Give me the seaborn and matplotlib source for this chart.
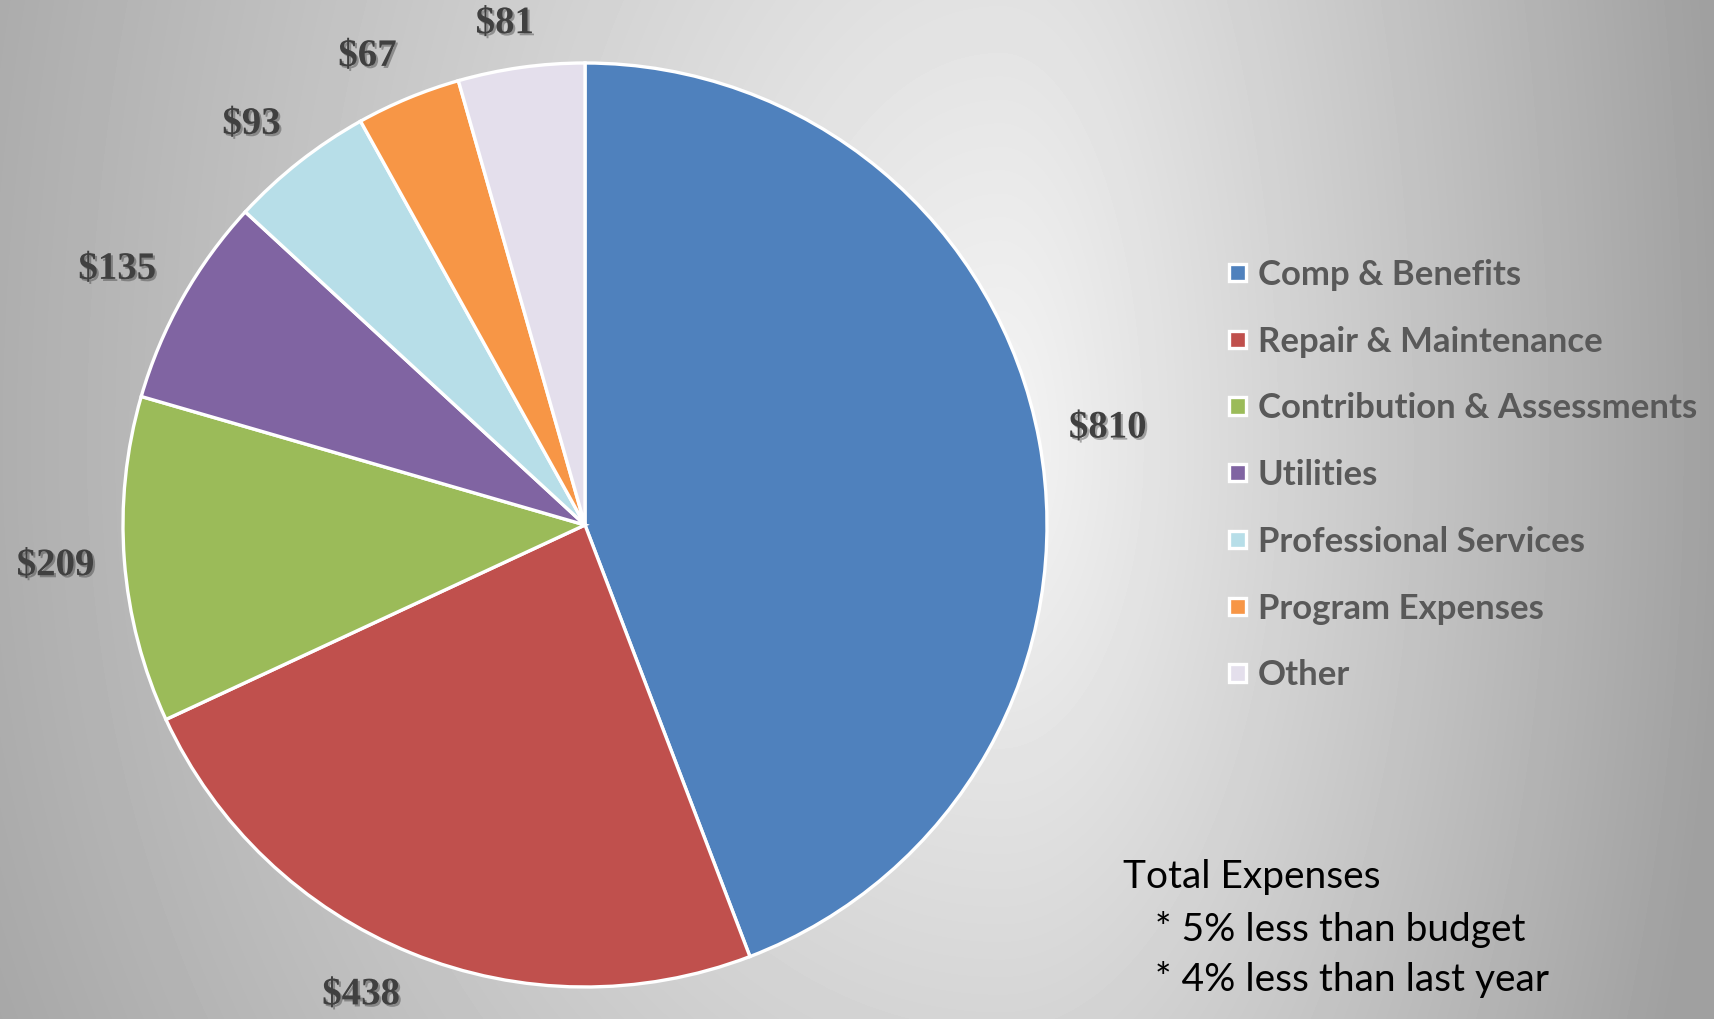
import numpy as np
import matplotlib.pyplot as plt
import matplotlib.patheffects as pe
import seaborn as sns

# Expense categories and amounts (in $ thousands)
categories = ['Comp & Benefits', 'Repair & Maintenance', 'Contribution & Assessments',
              'Utilities', 'Professional Services', 'Program Expenses', 'Other']
amounts = [810, 438, 209, 135, 93, 67, 81]
value_labels = ['$' + str(a) for a in amounts]
colors = ['#4F81BD', '#C0504D', '#9BBB59', '#8064A2', '#B7DEE8', '#F79646', '#E4DFEC']
note_lines = ['Total Expenses', '* 5% less than budget', '* 4% less than last year']

sns.set_theme(style="white")
palette = sns.color_palette(colors)

W, H = 1714, 1019
fig = plt.figure(figsize=(W / 100, H / 100), dpi=100)

# gray radial-ish background, lightest right of the pie
yy, xx = np.mgrid[0:H, 0:W].astype(float)
cx, cy = 1000, 450
nx = np.where(xx > cx, (xx - cx) / 720, (cx - xx) / 1200)
ny = np.where(yy > cy, (yy - cy) / 1500, (cy - yy) / 2000)
r = np.clip(np.sqrt(nx ** 2 + ny ** 2), 0, 1)
bg = 245 - 85 * r
ax_bg = fig.add_axes([0, 0, 1, 1])
ax_bg.imshow(bg, cmap='gray', vmin=0, vmax=255, aspect='auto', interpolation='bilinear')
ax_bg.axis('off')

# pie axes, square in pixels
R, lim = 462, 1.25
pcx, pcy = 585, 525
ax = fig.add_axes([(pcx - lim * R) / W, (H - pcy - lim * R) / H, 2 * lim * R / W, 2 * lim * R / H])
wedges, texts = ax.pie(amounts, colors=palette, labels=value_labels, startangle=90,
                       counterclock=False, labeldistance=1.14,
                       wedgeprops=dict(edgecolor='white', linewidth=2.4))
ax.set_xlim(-lim, lim)
ax.set_ylim(-lim, lim)
ax.axis('off')

lab_size = 28
for t in texts:
    t.set_horizontalalignment('center')
    t.set_verticalalignment('center')
    t.set_fontfamily('Liberation Serif')
    t.set_fontweight('bold')
    t.set_fontsize(lab_size)
    t.set_color('#404040')
    t.set_path_effects([pe.withSimplePatchShadow(offset=(1.5, -1.5), shadow_rgbFace='#202020', alpha=0.35)])

# "outside end" labels: the box corner nearest the pie sits just past the rim
fig.canvas.draw()
renderer = fig.canvas.get_renderer()
d = 1.065
half_h = 0.36 * lab_size * 100 / 72 / R
for w, t in zip(wedges, texts):
    bb = t.get_window_extent(renderer)
    ang = np.deg2rad((w.theta1 + w.theta2) / 2)
    c, s = np.cos(ang), np.sin(ang)
    fx = np.sign(c) * min(1, 3 * abs(c))
    fy = np.sign(s) * min(1, 3 * abs(s))
    t.set_position((d * c + fx * bb.width / 2 / R, d * s + fy * half_h))

leg = fig.legend(wedges, categories, loc='upper left', bbox_to_anchor=(1229 / W, 1 - 259 / H),
                 frameon=False, borderpad=0, borderaxespad=0,
                 handlelength=0.5, handleheight=0.39, handletextpad=0.33, labelspacing=1.0,
                 prop=dict(family='Lato', weight='bold', size=25))
for t in leg.get_texts():
    t.set_color('#595959')

fig.text(1123 / W, 1 - 877 / H, note_lines[0], family='Lato', size=28, color='black', va='center', ha='left')
for i, line in enumerate(note_lines[1:]):
    fig.text(1155 / W, 1 - (929 + 50 * i) / H, line, family='Lato', size=28, color='black', va='center', ha='left')

fig.savefig('out.png', dpi=100)
